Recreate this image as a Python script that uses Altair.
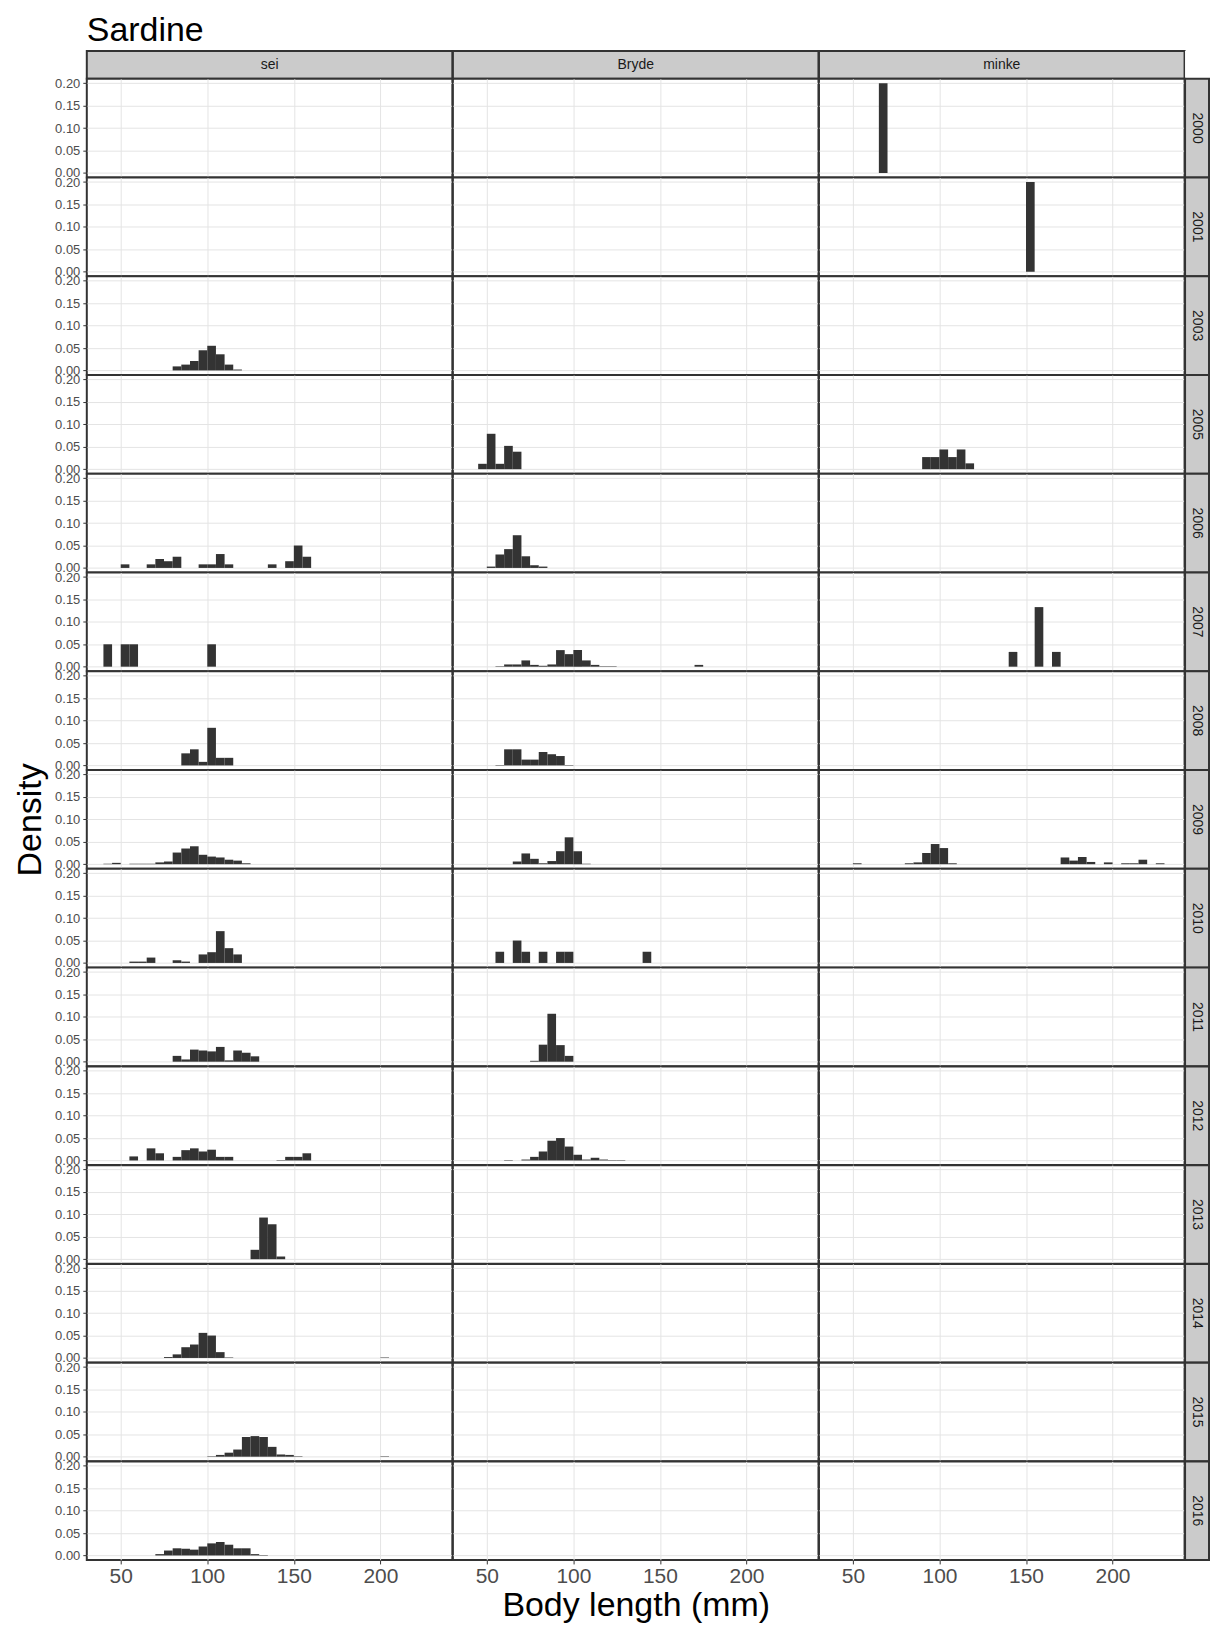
import altair as alt
import pandas as pd

BIN_WIDTH = 5
SPECIES = ["sei", "Bryde", "minke"]
YEARS = [2000, 2001, 2003, 2005, 2006, 2007, 2008, 2009, 2010, 2011, 2012, 2013, 2014, 2015, 2016]
X_TICKS = [50, 100, 150, 200]
Y_TICKS = [0.0, 0.05, 0.10, 0.15, 0.20]
TITLE = "Sardine"

# [left edge of 5-mm bin, density]
sei_2003 = [[80, .009], [85, .013], [90, .021], [95, .045], [100, .055], [105, .036], [110, .013], [115, .002]]
sei_2006 = [[50, .008], [65, .008], [70, .020], [75, .015], [80, .025], [95, .008], [100, .008], [105, .031],
            [110, .008], [135, .008], [145, .015], [150, .050], [155, .025]]
sei_2007 = [[40, .050], [50, .050], [55, .050], [100, .050]]
sei_2008 = [[85, .027], [90, .036], [95, .008], [100, .084], [105, .017], [110, .017]]
sei_2009 = [[40, .001], [45, .003], [55, .001], [60, .001], [65, .001], [70, .004], [75, .006], [80, .026],
            [85, .035], [90, .040], [95, .021], [100, .017], [105, .015], [110, .010], [115, .008], [120, .002]]
sei_2010 = [[55, .003], [60, .003], [65, .012], [80, .006], [85, .003], [95, .019], [100, .024], [105, .071],
            [110, .033], [115, .019]]
sei_2011 = [[80, .013], [85, .005], [90, .027], [95, .025], [100, .023], [105, .033], [110, .003], [115, .025],
            [120, .020], [125, .012]]
sei_2012 = [[55, .009], [65, .027], [70, .016], [80, .008], [85, .023], [90, .027], [95, .020], [100, .024],
            [105, .008], [110, .008], [140, .001], [145, .008], [150, .008], [155, .016]]
sei_2013 = [[125, .021], [130, .093], [135, .078], [140, .006]]
sei_2014 = [[75, .002], [80, .008], [85, .024], [90, .030], [95, .056], [100, .050], [105, .013], [110, .001],
            [200, .001]]
sei_2015 = [[100, .001], [105, .004], [110, .009], [115, .016], [120, .044], [125, .046], [130, .044],
            [135, .022], [140, .005], [145, .004], [150, .001], [200, .001]]
sei_2016 = [[70, .003], [75, .011], [80, .016], [85, .015], [90, .013], [95, .020], [100, .027], [105, .030],
            [110, .024], [115, .016], [120, .016], [125, .003], [130, .001]]

bryde_2005 = [[45, .012], [50, .079], [55, .012], [60, .052], [65, .039]]
bryde_2006 = [[50, .003], [55, .030], [60, .042], [65, .073], [70, .026], [75, .006], [80, .003]]
bryde_2007 = [[55, .001], [60, .005], [65, .005], [70, .014], [75, .004], [80, .002], [85, .005], [90, .037],
              [95, .028], [100, .037], [105, .014], [110, .004], [115, .001], [120, .001], [170, .004]]
bryde_2008 = [[55, .001], [60, .036], [65, .036], [70, .013], [75, .013], [80, .030], [85, .025], [90, .021],
              [95, .001]]
bryde_2009 = [[65, .006], [70, .024], [75, .012], [80, .002], [85, .007], [90, .029], [95, .060], [100, .029],
              [105, .001]]
bryde_2010 = [[55, .025], [65, .050], [70, .025], [80, .025], [90, .025], [95, .025], [140, .025]]
bryde_2011 = [[75, .002], [80, .038], [85, .107], [90, .037], [95, .013]]
bryde_2012 = [[60, .001], [70, .002], [75, .008], [80, .020], [85, .044], [90, .050], [95, .031], [100, .013],
              [105, .002], [110, .006], [115, .002], [120, .001], [125, .001]]

minke_2000 = [[65, .200]]
minke_2001 = [[150, .200]]
minke_2005 = [[90, .027], [95, .027], [100, .044], [105, .027], [110, .044], [115, .013]]
minke_2007 = [[140, .033], [155, .133], [165, .033]]
minke_2009 = [[50, .002], [80, .002], [85, .004], [90, .025], [95, .045], [100, .036], [105, .002], [170, .015],
              [175, .008], [180, .016], [185, .005], [195, .004], [205, .002], [210, .002], [215, .010],
              [225, .002]]

PANELS = {
    ("sei", 2003): sei_2003, ("sei", 2006): sei_2006, ("sei", 2007): sei_2007, ("sei", 2008): sei_2008,
    ("sei", 2009): sei_2009, ("sei", 2010): sei_2010, ("sei", 2011): sei_2011, ("sei", 2012): sei_2012,
    ("sei", 2013): sei_2013, ("sei", 2014): sei_2014, ("sei", 2015): sei_2015, ("sei", 2016): sei_2016,
    ("Bryde", 2005): bryde_2005, ("Bryde", 2006): bryde_2006, ("Bryde", 2007): bryde_2007,
    ("Bryde", 2008): bryde_2008, ("Bryde", 2009): bryde_2009, ("Bryde", 2010): bryde_2010,
    ("Bryde", 2011): bryde_2011, ("Bryde", 2012): bryde_2012,
    ("minke", 2000): minke_2000, ("minke", 2001): minke_2001, ("minke", 2005): minke_2005,
    ("minke", 2007): minke_2007, ("minke", 2009): minke_2009,
}

records = []
for (sp, yr), bins in PANELS.items():
    for left, d in bins:
        records.append({"species": sp, "year": yr, "x0": left, "x1": left + BIN_WIDTH, "density": d})
df = pd.DataFrame(records)

FONT = "Liberation Sans"
W, H = 366.5, 98.8
STRIP_H, STRIP_W = 28, 24
XDOM = [30.4, 241.6]
YDOM = [-0.01, 0.21]
GRID = "#e4e4e4"
DARK = "#333333"
STRIP_FILL = "#cbcbcb"
BORDER = alt.ViewBackground(stroke=DARK, strokeWidth=2, fill="white")
STRIP_VIEW = alt.ViewBackground(fill=STRIP_FILL, stroke=DARK, strokeWidth=2)


def panel(sp, yr, ci, ri):
    left = ci == 0
    bottom = ri == len(YEARS) - 1
    xkw = dict(values=X_TICKS, grid=True, gridColor=GRID, gridWidth=1, domain=False,
               labels=bottom, ticks=bottom, tickSize=4, tickColor=DARK, labelFontSize=21,
               labelColor="#4d4d4d", labelFont=FONT, labelPadding=2, labelFlush=False)
    if bottom and ci == 1:
        xkw.update(title="Body length (mm)", titleFontSize=34, titleFont=FONT, titleFontWeight="normal",
                   titleColor="#000000", titlePadding=2)
    else:
        xkw.update(title="")
    ykw = dict(values=Y_TICKS, grid=True, gridColor=GRID, gridWidth=1, domain=False,
               labels=left, ticks=left, tickSize=4, tickColor=DARK, labelFontSize=13,
               labelColor="#4d4d4d", labelFont=FONT, labelPadding=3, format=".2f")
    if left and yr == 2009:
        ykw.update(title="Density", titleFontSize=34, titleFont=FONT, titleFontWeight="normal",
                   titleColor="#000000", titlePadding=7)
    else:
        ykw.update(title="")
    return (
        alt.Chart(df)
        .transform_filter((alt.datum.species == sp) & (alt.datum.year == yr))
        .mark_bar(color=DARK)
        .encode(
            x=alt.X("x0:Q", scale=alt.Scale(domain=XDOM, nice=False, zero=False), axis=alt.Axis(**xkw)),
            x2="x1:Q",
            y=alt.Y("density:Q", scale=alt.Scale(domain=YDOM, nice=False, zero=False), axis=alt.Axis(**ykw)),
            y2=alt.datum(0),
        )
        .properties(width=W, height=H, view=BORDER)
    )


def top_strip(sp, with_title):
    label = (
        alt.Chart(pd.DataFrame({"label": [sp]}))
        .mark_text(font=FONT, fontSize=14, color="#1a1a1a")
        .encode(text="label:N", x=alt.value(W / 2), y=alt.value(STRIP_H / 2))
    )
    if not with_title:
        return label.properties(width=W, height=STRIP_H, view=STRIP_VIEW)
    title = (
        alt.Chart(pd.DataFrame({"label": [TITLE]}))
        .mark_text(font=FONT, fontSize=34, color="#000000", align="left", baseline="alphabetic")
        .encode(text="label:N", x=alt.value(0), y=alt.value(-10))
    )
    return alt.layer(label, title).properties(width=W, height=STRIP_H, view=STRIP_VIEW)


def corner():
    return (
        alt.Chart(pd.DataFrame({"label": [""]}))
        .mark_text(font=FONT, fontSize=11)
        .encode(text="label:N", x=alt.value(1), y=alt.value(1))
        .properties(width=STRIP_W, height=STRIP_H,
                    view=alt.ViewBackground(fill="white", stroke="white", strokeWidth=0))
    )


def side_strip(yr):
    return (
        alt.Chart(pd.DataFrame({"label": [str(yr)]}))
        .mark_text(font=FONT, fontSize=14, color="#1a1a1a", angle=90)
        .encode(text="label:N", x=alt.value(STRIP_W / 2), y=alt.value(H / 2))
        .properties(width=STRIP_W, height=H, view=STRIP_VIEW)
    )


cells = [top_strip(sp, ci == 0) for ci, sp in enumerate(SPECIES)] + [corner()]
for ri, yr in enumerate(YEARS):
    cells += [panel(sp, yr, ci, ri) for ci, sp in enumerate(SPECIES)]
    cells.append(side_strip(yr))

chart = (
    alt.concat(*cells, columns=4, spacing=0, bounds="flush", align="each")
    .properties(
        padding={"left": 4, "top": 3, "right": 0, "bottom": 0},
        background="white",
    )
)

chart.save("out.html", embed_options={"renderer": "svg", "actions": False})
